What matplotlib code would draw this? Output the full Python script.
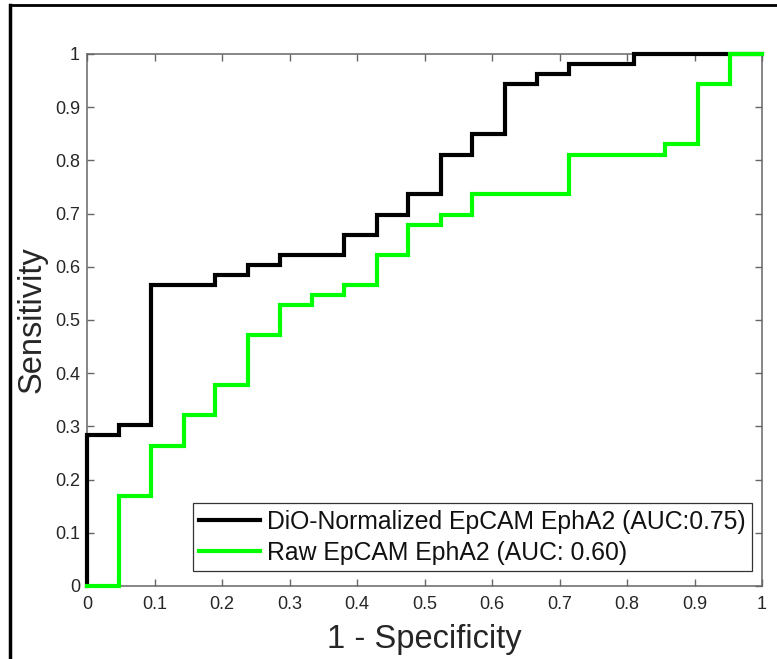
import matplotlib
matplotlib.use("Agg")
import matplotlib.pyplot as plt
from matplotlib.lines import Line2D

plt.rcParams['font.family'] = ['Liberation Sans', 'DejaVu Sans']

# ROC vertices (1 - specificity, sensitivity), drawn as post-steps
dio_fpr = [0.0, 0.0, 0.048, 0.095, 0.190, 0.238, 0.286, 0.381, 0.429, 0.476,
           0.524, 0.571, 0.619, 0.667, 0.714, 0.810, 1.0]
dio_tpr = [0.0, 0.283, 0.302, 0.566, 0.585, 0.604, 0.623, 0.660, 0.698, 0.736,
           0.811, 0.849, 0.943, 0.962, 0.981, 1.0, 1.0]

raw_fpr = [0.0, 0.048, 0.095, 0.143, 0.190, 0.238, 0.286, 0.333, 0.381, 0.429,
           0.476, 0.524, 0.571, 0.714, 0.857, 0.905, 0.952, 1.0]
raw_tpr = [0.0, 0.170, 0.264, 0.321, 0.377, 0.472, 0.528, 0.547, 0.566, 0.623,
           0.679, 0.698, 0.736, 0.811, 0.830, 0.943, 1.0, 1.0]

labels = ['DiO-Normalized EpCAM EphA2 (AUC:0.75)', 'Raw EpCAM EphA2 (AUC: 0.60)']
ticks = [0, 0.1, 0.2, 0.3, 0.4, 0.5, 0.6, 0.7, 0.8, 0.9, 1]
tick_labels = ['0', '0.1', '0.2', '0.3', '0.4', '0.5', '0.6', '0.7', '0.8', '0.9', '1']

fig = plt.figure(figsize=(7.77, 6.59), dpi=100)
ax = fig.add_axes([87/777, 73/659, 675/777, 532/659])

ax.step(dio_fpr, dio_tpr, where='post', color='black', lw=3.0, label=labels[0],
        solid_joinstyle='miter', clip_on=False, zorder=3)
ax.step(raw_fpr, raw_tpr, where='post', color='#00ff00', lw=3.0, label=labels[1],
        solid_joinstyle='miter', clip_on=False, zorder=4)

ax.set_xlim(0, 1)
ax.set_ylim(0, 1)
ax.set_xticks(ticks)
ax.set_xticklabels(tick_labels)
ax.set_yticks(ticks)
ax.set_yticklabels(tick_labels)

axc = '#666666'
for s in ax.spines.values():
    s.set_color(axc)
    s.set_linewidth(1.1)
ax.tick_params(direction='in', length=5, width=1, color=axc, top=True, right=True,
               labelsize=13, labelcolor='#262626')
ax.tick_params(axis='x', pad=7)
ax.tick_params(axis='y', pad=5)

ax.set_xlabel('1 - Specificity', fontsize=23.5, color='#262626', labelpad=8)
ax.set_ylabel('Sensitivity', fontsize=23.5, color='#262626', labelpad=5)

leg = ax.legend(loc='lower right', bbox_to_anchor=(0.985, 0.028), borderaxespad=0,
                prop={'size': 17.8}, fancybox=False, edgecolor='#333333',
                framealpha=1, handlelength=2.46, handletextpad=0.3,
                labelspacing=0.3, borderpad=0.25)
leg.get_frame().set_linewidth(0.9)
for t in leg.get_texts():
    t.set_color('#111111')

# figure frame (top and left edges visible)
fig.add_artist(Line2D([10/777, 10/777], [0, 1 - 5/659], color='black', lw=2.5,
                      transform=fig.transFigure))
fig.add_artist(Line2D([10/777, 1], [1 - 5/659, 1 - 5/659], color='black', lw=2.0,
                      transform=fig.transFigure))

fig.savefig('out.png', dpi=100)
